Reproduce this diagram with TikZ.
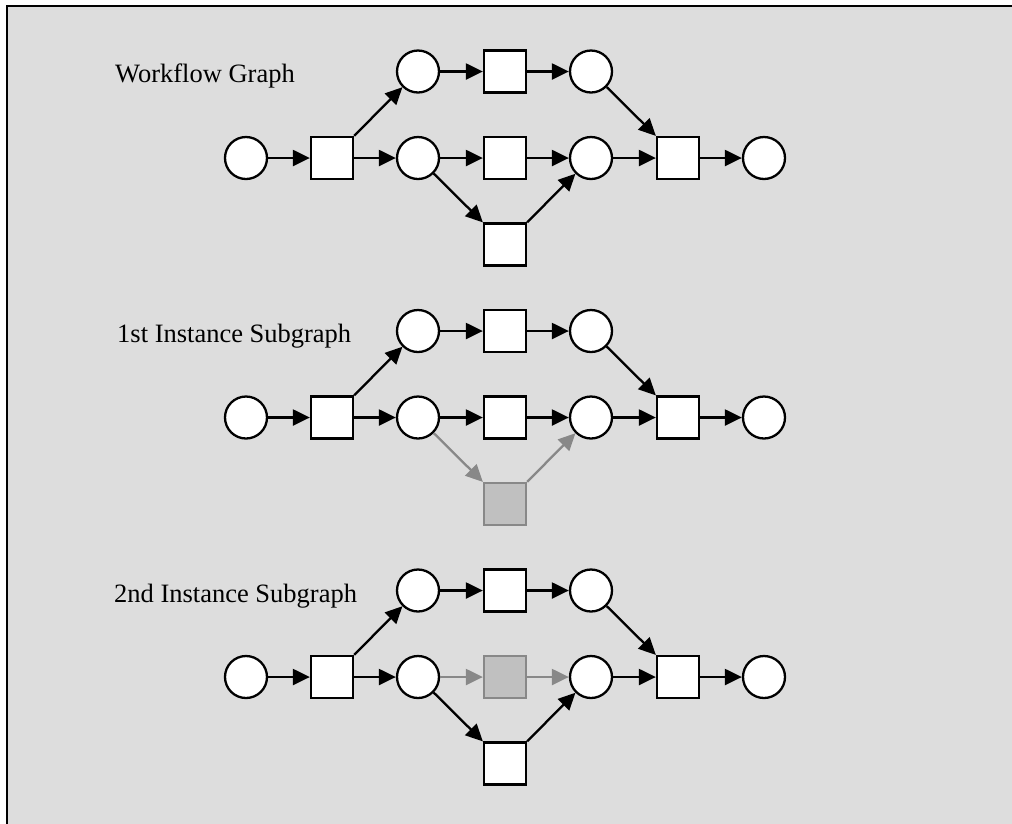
\documentclass[tikz,border=0pt]{standalone}
\usepackage{fontspec}
\setmainfont{Liberation Serif}
\usetikzlibrary{arrows.meta}
\definecolor{bg}{HTML}{DDDDDD}
\definecolor{ghost}{HTML}{C0C0C0}
\definecolor{ghostline}{HTML}{888888}
\newcommand{\wfgraph}[3]{%
  \begin{scope}[shift={(0,#1)}]
    \node[place] (p0#2) at (246,158) {};
    \node[trans] (t1#2) at (332,158) {};
    \node[place] (pa#2) at (418,71.5) {};
    \node[trans] (ta#2) at (505,71.5) {};
    \node[place] (pb#2) at (591,71.5) {};
    \node[place] (pc#2) at (418,158) {};
    \node[place] (pd#2) at (591,158) {};
    \node[trans] (t2#2) at (678,158) {};
    \node[place] (pe#2) at (764,158) {};
    \draw[arc] (p0#2) -- (t1#2);
    \draw[arc] (t1#2.north east) -- (pa#2);
    \draw[arc] (t1#2) -- (pc#2);
    \draw[arc] (pa#2) -- (ta#2);
    \draw[arc] (ta#2) -- (pb#2);
    \draw[arc] (pb#2) -- (t2#2.north west);
    \draw[arc] (pd#2) -- (t2#2);
    \draw[arc] (t2#2) -- (pe#2);
    #3
  \end{scope}}
\begin{document}
\begin{tikzpicture}[x=1pt,y=-1pt,
  place/.style={circle,draw,fill=white,line width=2.3pt,minimum size=42pt,inner sep=0pt},
  trans/.style={rectangle,draw,fill=white,line width=2.3pt,minimum size=42pt,inner sep=0pt},
  ghosttrans/.style={trans,fill=ghost,draw=ghostline},
  arc/.style={line width=2.3pt,-{Triangle[length=17pt,width=16pt]}},
  ghostarc/.style={arc,draw=ghostline,fill=ghostline},
  label/.style={anchor=base west,inner sep=0pt,font=\fontsize{26.5pt}{31pt}\selectfont}]
\useasboundingbox (0,0) rectangle (1012,823);
\path[fill=bg,draw=black,line width=2.3pt] (7,6) rectangle (1040,850);
\node[label] (lab1) at (115,82) {Workflow Graph};
\node[label] (lab2) at (117,342) {1st Instance Subgraph};
\node[label] (lab3) at (114,602) {2nd Instance Subgraph};
\wfgraph{0}{x}{%
  \node[trans] (tcx) at (505,158) {};
  \node[trans] (tex) at (505,244.5) {};
  \draw[arc] (pcx) -- (tcx);
  \draw[arc] (tcx) -- (pdx);
  \draw[arc] (pcx) -- (tex.north west);
  \draw[arc] (tex.north east) -- (pdx);}
\wfgraph{259.5}{y}{%
  \node[trans] (tcy) at (505,158) {};
  \node[ghosttrans] (tey) at (505,244.5) {};
  \draw[arc] (pcy) -- (tcy);
  \draw[arc] (tcy) -- (pdy);
  \draw[ghostarc] (pcy) -- (tey.north west);
  \draw[ghostarc] (tey.north east) -- (pdy);}
\wfgraph{519}{z}{%
  \node[ghosttrans] (tcz) at (505,158) {};
  \node[trans] (tez) at (505,244.5) {};
  \draw[ghostarc] (pcz) -- (tcz);
  \draw[ghostarc] (tcz) -- (pdz);
  \draw[arc] (pcz) -- (tez.north west);
  \draw[arc] (tez.north east) -- (pdz);}
\end{tikzpicture}
\end{document}
